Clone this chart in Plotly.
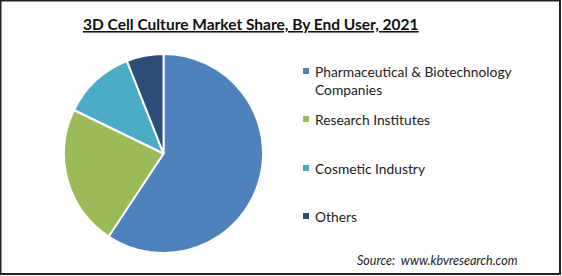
import plotly.graph_objects as go

labels = ["Pharmaceutical & Biotechnology Companies", "Research Institutes",
          "Cosmetic Industry", "Others"]
legend_text = ["Pharmaceutical & Biotechnology<br>Companies", "Research Institutes",
               "Cosmetic Industry", "Others"]
values = [59.3, 22.9, 11.8, 6.0]
colors = ["#4f81bd", "#9bbb59", "#4bacc6", "#2c4d75"]
legend_y = [71, 119, 168, 216]

W, H = 562, 276
fig = go.Figure()
fig.add_trace(go.Pie(
    labels=labels, values=values, sort=False, direction="clockwise", rotation=0,
    marker=dict(colors=colors, line=dict(color="white", width=2)),
    textinfo="none", hoverinfo="label+percent", showlegend=False,
    domain=dict(x=[64 / W, 263 / W], y=[1 - 253 / H, 1 - 54 / H]),
))

font = "Lato, 'Open Sans', sans-serif"
annotations = [
    dict(text="<b><u>3D Cell Culture Market Share, By End User, 2021</u></b>",
         x=251 / W, y=1 - 24 / H, xref="paper", yref="paper", showarrow=False,
         xanchor="center", yanchor="middle", font=dict(family=font, size=15.5, color="#111")),
    dict(text="<i>Source:  www.kbvresearch.com</i>",
         x=355 / W, y=1 - 260 / H, xref="paper", yref="paper", showarrow=False,
         xanchor="left", yanchor="middle", font=dict(family=font, size=12.5, color="#222")),
]
shapes = [dict(type="rect", xref="paper", yref="paper", x0=0.5 / W, x1=1 - 2 / W,
               y0=2 / H, y1=1 - 0.5 / H, line=dict(color="#222", width=2))]
for t, c, yy in zip(legend_text, colors, legend_y):
    annotations.append(dict(text=t, x=313 / W, y=1 - (yy - 10) / H, xref="paper", yref="paper",
                            showarrow=False, xanchor="left", yanchor="top", align="left",
                            font=dict(family=font, size=13.8, color="#222")))
    shapes.append(dict(type="rect", xref="paper", yref="paper",
                       x0=303 / W, x1=309 / W, y0=1 - (yy + 3) / H, y1=1 - (yy - 3) / H,
                       fillcolor=c, line=dict(width=0)))

fig.update_layout(width=W, height=H, margin=dict(l=0, r=0, t=0, b=0),
                  paper_bgcolor="white", plot_bgcolor="white",
                  annotations=annotations, shapes=shapes)
fig.write_html("out.html")
